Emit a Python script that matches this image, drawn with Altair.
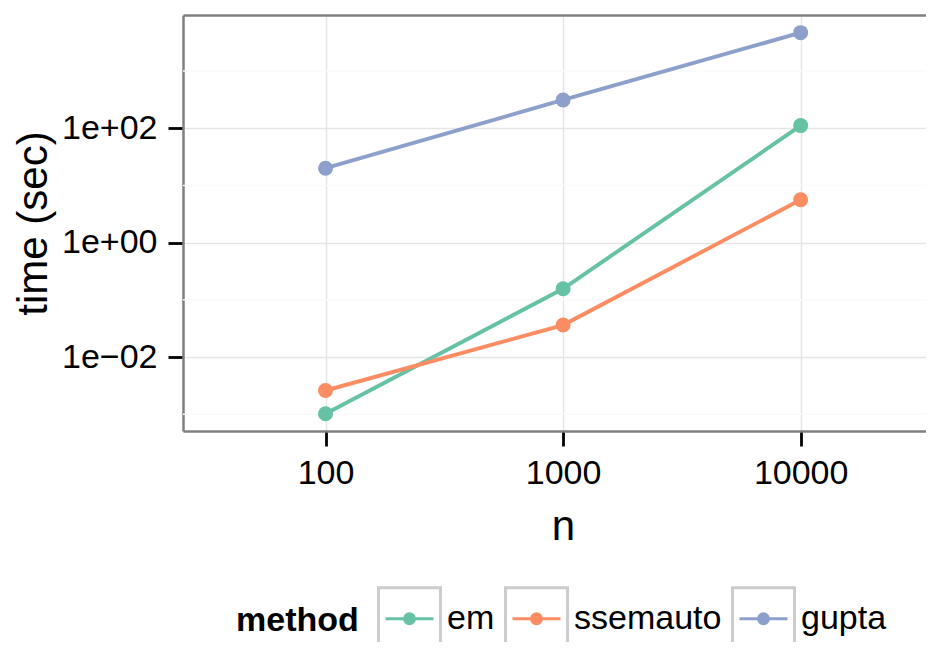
import altair as alt
import pandas as pd

# ---- data ----
methods = ["em", "ssemauto", "gupta"]
n_values = [100, 1000, 10000]
time_em = [0.00102, 0.156, 111]
time_ssemauto = [0.0026, 0.0362, 5.6]
time_gupta = [20.0, 312, 4680]
colors = ["#66c2a5", "#fc8d62", "#8da0cb"]
y_major = [0.01, 1, 100]
y_major_labels = ["1e\u221202", "1e+00", "1e+02"]
y_minor = [0.001, 0.1, 10, 1000]

rows = []
for m, ts in zip(methods, [time_em, time_ssemauto, time_gupta]):
    for n, t in zip(n_values, ts):
        rows.append({"n": n, "time": t, "method": m, "mbox": "box_" + m})
df = pd.DataFrame(rows)
minor_df = pd.DataFrame({"v": y_minor})

FONT = "Liberation Sans"
BORDER = "#7f7f7f"
GRID = "#e5e5e5"

x_scale = alt.Scale(type="log", domain=[25.12, 33700], nice=False)
y_scale = alt.Scale(type="log", domain=[10 ** -3.293, 10 ** 3.979], nice=False)
color_scale = alt.Scale(domain=methods, range=colors)

y_label_expr = " : ".join(
    f"abs(datum.value - {v}) < {v * 0.01} ? '{lab}'" for v, lab in zip(y_major, y_major_labels)
) + " : ''"

# legend key glyphs (unit square coordinates)
LINE_DOT = ("M-1,-1L-1,-1M1,1L1,1"
            "M-0.774,0H0.774"
            "M-0.161,0A0.161,0.161 0 1,1 0.161,0A0.161,0.161 0 1,1 -0.161,0Z")
BOX = "M-1,-1H1V1H-1Z"

legend_common = dict(
    orient="none", legendX=53, legendY=571, direction="horizontal",
    title="method", titleOrient="left", titleFont=FONT, titleFontSize=34,
    titleFontWeight="bold", titlePadding=18, titleAnchor="middle", titleBaseline="middle",
    labelFont=FONT, labelFontSize=34, labelOffset=5, columnPadding=4,
    symbolSize=3844, symbolStrokeWidth=3, symbolOpacity=1, padding=0, offset=0,
)

x_main_axis = alt.Axis(
    values=n_values, format="d", title="n", orient="bottom",
    grid=True, gridColor=GRID, gridWidth=1.5,
    domain=True, domainColor=BORDER, domainWidth=2.5,
    ticks=True, tickColor="black", tickWidth=2.8, tickSize=15,
    labelFont=FONT, labelFontSize=34, labelColor="black",
    labelBaseline="alphabetic", labelPadding=37,
    titleFont=FONT, titleFontSize=42, titleFontWeight="normal", titleColor="black",
    titleBaseline="alphabetic", titleAlign="center", titleX=380, titleY=108,
)

y_axis = alt.Axis(
    values=y_major, labelExpr=y_label_expr, title="time (sec)",
    grid=True, gridColor=GRID, gridWidth=1.5,
    domain=True, domainColor=BORDER, domainWidth=2.5,
    ticks=True, tickColor="black", tickWidth=2.8, tickSize=15,
    labelFont=FONT, labelFontSize=34, labelColor="black", labelPadding=11,
    titleFont=FONT, titleFontSize=42, titleFontWeight="normal", titleColor="black",
    titleAngle=270, titleBaseline="alphabetic", titleAlign="center",
    titleX=-137, titleY=208,
)

x_top_axis = alt.Axis(
    orient="top", labels=False, ticks=False, grid=False, title=None,
    domain=True, domainColor=BORDER, domainWidth=2.5,
)

minor = alt.Chart(minor_df).mark_rule(color="#fafafa", strokeWidth=1.5).encode(
    y=alt.Y("v:Q", scale=y_scale, title="time (sec)")
)

base = alt.Chart(df)

lines = base.mark_line(strokeWidth=3.9).encode(
    x=alt.X("n:Q", scale=x_scale, axis=x_main_axis),
    y=alt.Y("time:Q", scale=y_scale, axis=y_axis),
    color=alt.Color(
        "method:N", scale=color_scale,
        legend=alt.Legend(symbolType=LINE_DOT, labelColor="black", titleColor="black",
                          **legend_common),
    ),
)

points = base.mark_point(filled=True, size=225, opacity=1).encode(
    x=alt.X("n:Q", scale=x_scale, axis=None),
    y=alt.Y("time:Q", scale=y_scale, title="time (sec)"),
    color=alt.Color("method:N", scale=color_scale),
)

boxes = base.mark_point(filled=False, opacity=0, color="#cccccc", strokeWidth=3).encode(
    x=alt.X("n:Q", scale=x_scale, axis=x_top_axis),
    y=alt.Y("time:Q", scale=y_scale, title="time (sec)"),
    shape=alt.Shape(
        "mbox:N",
        scale=alt.Scale(domain=["box_" + m for m in methods], range=[BOX] * len(methods)),
        legend=alt.Legend(symbolStrokeColor="#cccccc", symbolFillColor="transparent",
                          labelExpr="replace(datum.label, 'box_', '')",
                          labelColor="transparent", titleColor="transparent",
                          **legend_common),
    ),
)

chart = (
    alt.layer(minor, lines, points, boxes)
    .resolve_axis(x="independent")
    .properties(
        width=743, height=416,
        padding={"left": 175, "top": 7, "right": 0, "bottom": 211},
        autosize=alt.AutoSizeParams(type="none"),
        background="white",
    )
    .configure_view(stroke="transparent")
)

chart.save("out.html", embed_options={"renderer": "svg", "actions": False})
